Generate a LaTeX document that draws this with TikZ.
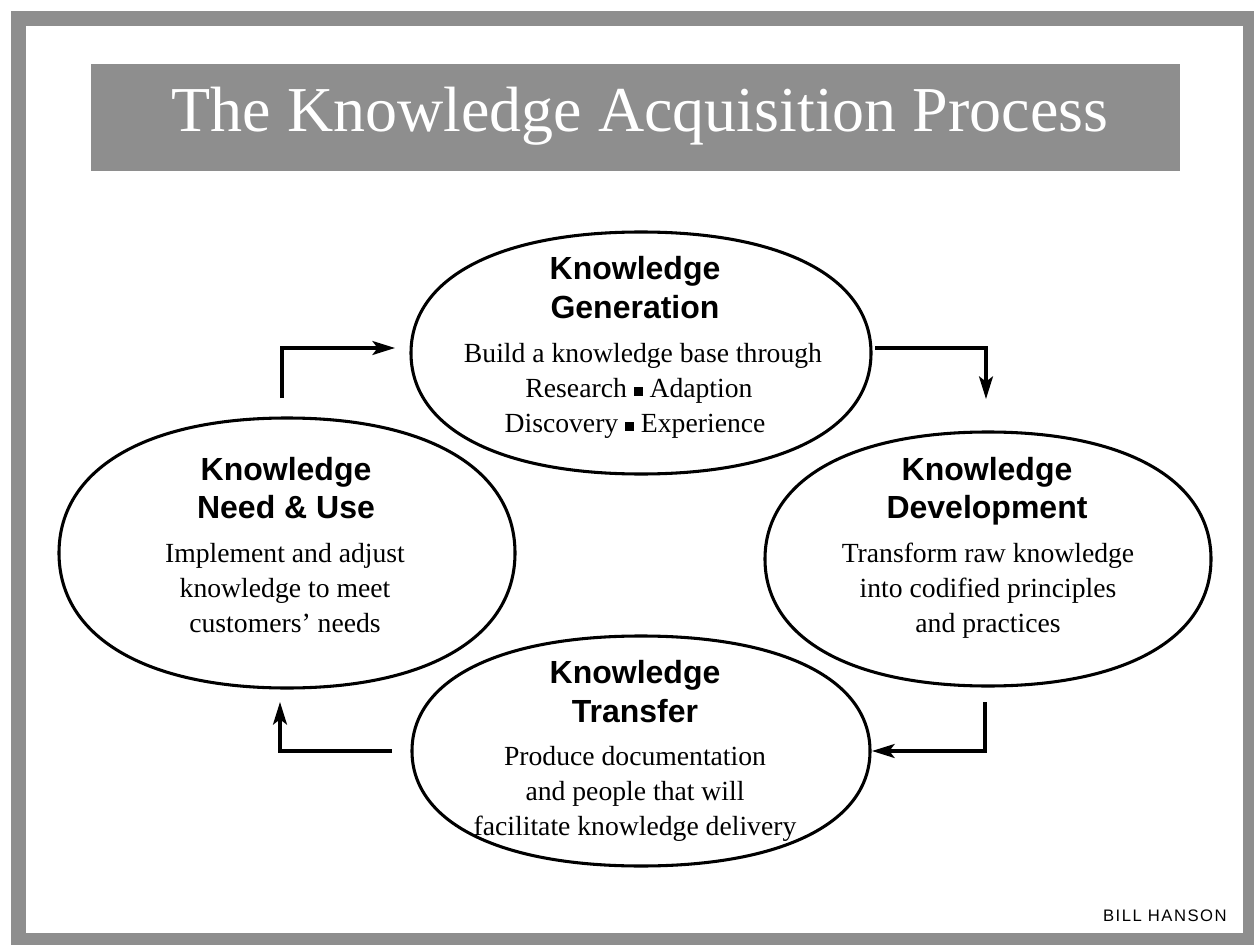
\documentclass[tikz,border=0pt]{standalone}
\usepackage{fontspec}
\usetikzlibrary{arrows.meta}
\setmainfont{Liberation Serif}
\newfontfamily\headfont{Liberation Sans}
\newfontfamily\creditfont{Liberation Sans}[LetterSpace=9]
\definecolor{framegray}{HTML}{8E8E8E}
\newcommand{\sqmark}{\rule[0.03em]{0.32em}{0.32em}}
% fullness of the phase ovals (0.552 would be a plain ellipse)
\def\kk{0.62}
% \phaseoval{cx}{cy}{rx}{ry}: a slightly squarish oval
\newcommand{\phaseoval}[4]{%
  \draw[phase] (#1+#3,#2)
    .. controls (#1+#3,#2-\kk*#4) and (#1+\kk*#3,#2-#4) .. (#1,#2-#4)
    .. controls (#1-\kk*#3,#2-#4) and (#1-#3,#2-\kk*#4) .. (#1-#3,#2)
    .. controls (#1-#3,#2+\kk*#4) and (#1-\kk*#3,#2+#4) .. (#1,#2+#4)
    .. controls (#1+\kk*#3,#2+#4) and (#1+#3,#2+\kk*#4) .. (#1+#3,#2) -- cycle;}
\begin{document}
\begin{tikzpicture}[x=0.75pt,y=-0.75pt,
  phase/.style={draw=black,line width=2.3pt,fill=white},
  headline/.style={anchor=base,inner sep=0pt,font=\headfont\bfseries\fontsize{24pt}{28pt}\selectfont},
  bodyline/.style={anchor=base,inner sep=0pt,font=\fontsize{20.75pt}{26pt}\selectfont},
  flow/.style={line width=2.3pt,-{Stealth[length=17pt,width=10.5pt,inset=4pt]}}]
\useasboundingbox (0,0) rectangle (1254,945);
% page frame
\fill[framegray] (11,11) rectangle (1254,945);
\fill[white] (26,26) rectangle (1243,933);
% title banner
\fill[framegray] (91,64) rectangle (1180,171);
\node[anchor=base,inner sep=0pt,text=white,font=\fontsize{48pt}{56pt}\selectfont] (title) at (640,132) {The Knowledge Acquisition Process};

% the four phase ovals
\phaseoval{641}{353}{230}{121}
\phaseoval{988}{559}{223}{127}
\phaseoval{287}{553}{228}{135}
\phaseoval{641}{751}{229}{115}

% Knowledge Generation
\node[headline] (gen-h1) at (635,280) {Knowledge};
\node[headline] (gen-h2) at (635,318) {Generation};
\node[bodyline] (gen-b1) at (643,362) {Build a knowledge base through};
\node[bodyline] (gen-b2) at (639,397) {Research \sqmark\ Adaption};
\node[bodyline] (gen-b3) at (635,432) {Discovery \sqmark\ Experience};

% Knowledge Development
\node[headline] (dev-h1) at (987,480) {Knowledge};
\node[headline] (dev-h2) at (987,518) {Development};
\node[bodyline] (dev-b1) at (988,562) {Transform raw knowledge};
\node[bodyline] (dev-b2) at (988,597) {into codified principles};
\node[bodyline] (dev-b3) at (988,632) {and practices};

% Knowledge Need & Use
\node[headline] (need-h1) at (286,480) {Knowledge};
\node[headline] (need-h2) at (286,518) {Need \& Use};
\node[bodyline] (need-b1) at (285,562) {Implement and adjust};
\node[bodyline] (need-b2) at (285,597) {knowledge to meet};
\node[bodyline] (need-b3) at (285,632) {customers’ needs};

% Knowledge Transfer
\node[headline] (trans-h1) at (635,683) {Knowledge};
\node[headline] (trans-h2) at (635,722) {Transfer};
\node[bodyline] (trans-b1) at (635,765) {Produce documentation};
\node[bodyline] (trans-b2) at (635,800) {and people that will};
\node[bodyline] (trans-b3) at (635,835) {facilitate knowledge delivery};

% cycle arrows
\coordinate (a1s) at (282,398);
\coordinate (a1e) at (395,348);
\coordinate (a2s) at (875,348);
\coordinate (a2e) at (986,399);
\coordinate (a3s) at (985,702);
\coordinate (a3e) at (872,751);
\coordinate (a4s) at (392,751);
\coordinate (a4e) at (280,702);
\draw[flow] (a1s) |- (a1e);
\draw[flow] (a2s) -| (a2e);
\draw[flow] (a3s) |- (a3e);
\draw[flow] (a4s) -| (a4e);

% credit
\node[anchor=base east,inner sep=0pt,font=\creditfont\fontsize{12.5pt}{14pt}\selectfont] (credit) at (1227,921) {BILL HANSON};
\end{tikzpicture}
\end{document}
